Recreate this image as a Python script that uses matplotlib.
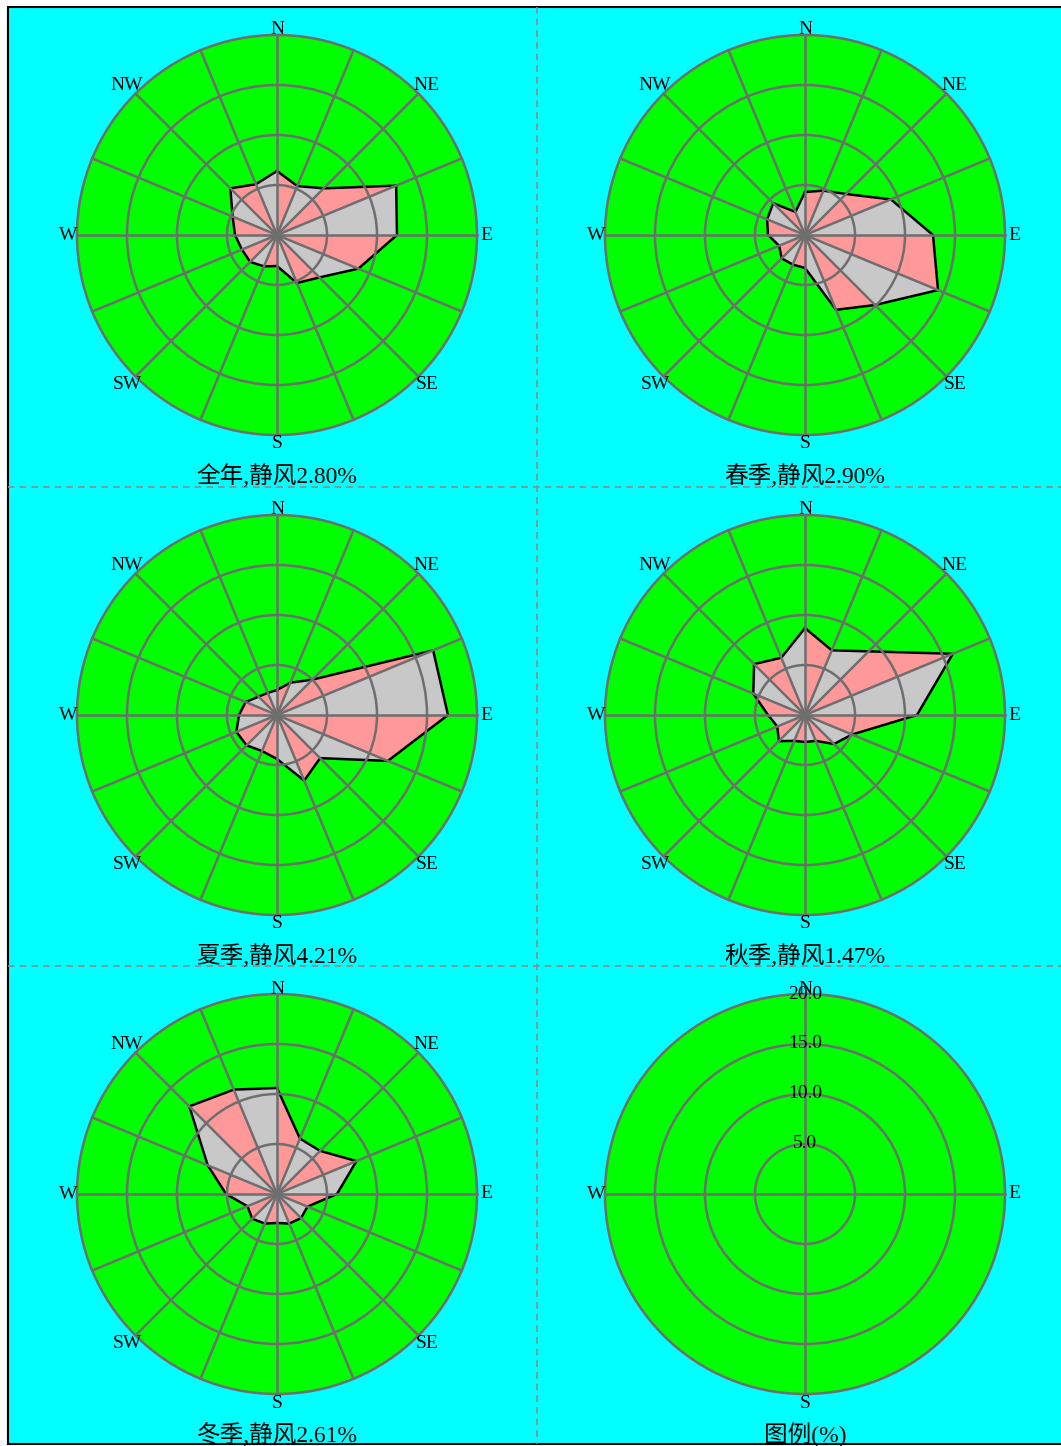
import numpy as np
import matplotlib.pyplot as plt
from matplotlib.patches import Circle, Rectangle

plt.rcParams['font.family'] = ['Liberation Serif', 'Noto Sans CJK SC', 'DejaVu Sans']

# 16 directions, clockwise from north
directions = ["N", "NNE", "NE", "ENE", "E", "ESE", "SE", "SSE",
              "S", "SSW", "SW", "WSW", "W", "WNW", "NW", "NNW"]

# wind direction frequency (%)
annual = [6.4, 5.3, 6.6, 12.9, 12.0, 8.8, 6.0, 5.2, 3.1, 3.4, 3.8, 3.8, 4.2, 4.8, 6.6, 5.5]
spring = [4.3, 4.8, 5.8, 9.3, 12.8, 14.4, 9.9, 8.1, 3.3, 3.2, 3.3, 2.8, 3.7, 4.1, 4.5, 2.5]
summer = [2.5, 3.5, 5.0, 16.9, 17.1, 12.0, 6.1, 7.1, 4.4, 3.9, 4.3, 4.4, 3.8, 3.4, 2.6, 2.4]
autumn = [8.7, 7.0, 9.0, 16.0, 11.2, 5.1, 4.1, 2.8, 2.7, 2.8, 3.7, 3.0, 3.7, 5.6, 7.2, 6.2]
winter = [10.6, 6.0, 6.1, 8.6, 6.0, 3.3, 3.4, 3.2, 2.9, 3.2, 3.5, 3.2, 5.1, 7.5, 12.4, 11.3]

season_names = ["全年", "春季", "夏季", "秋季", "冬季"]
calm = [2.80, 2.90, 4.21, 1.47, 2.61]
ring_values = [5, 10, 15, 20]
label_dirs = ["N", "NE", "E", "SE", "S", "SW", "W", "NW"]

W, H = 1061, 1446
RMAX = 20
green = '#00ff00'
pink = '#ff9999'
grey = '#c8c8c8'
grid_color = '#6e6e6e'

fig = plt.figure(figsize=(W / 100, H / 100), dpi=100)
fig.patch.set_facecolor('white')

# background frame with dashed separators (pixel coords)
bg = fig.add_axes([0, 0, 1, 1])
bg.set_xlim(0, W)
bg.set_ylim(H, 0)
bg.axis('off')
bg.add_patch(Rectangle((8, 7), W, 1437, facecolor='#00ffff', edgecolor='black', lw=1.5))
sep = dict(color='#8c8c8c', lw=1.2, ls=(0, (4, 3)))
bg.plot([537, 537], [7, 1444], **sep)
bg.plot([8, W], [487, 487], **sep)
bg.plot([8, W], [966, 966], **sep)

centers = [(277, 235), (805, 235), (277, 715), (805, 715), (277, 1194), (805, 1194)]
half = 230  # px, 10 px per percent


def make_axes(cx, cy):
    ax = fig.add_axes([(cx - half) / W, 1 - (cy + half) / H, 2 * half / W, 2 * half / H])
    ax.set_xlim(-half / 10, half / 10)
    ax.set_ylim(-half / 10, half / 10)
    ax.axis('off')
    ax.add_patch(Circle((0, 0), RMAX, facecolor=green, edgecolor='none', zorder=1))
    for rv in ring_values:
        ax.add_patch(Circle((0, 0), rv, fill=False, edgecolor=grid_color, lw=1.8, zorder=4))
    return ax


def dir_labels(ax, names):
    for name in names:
        ang = np.radians(directions.index(name) * 22.5)
        if len(name) == 2:
            rr = 21.2
        elif name == "N":
            rr = 20.5
        else:
            rr = 20.9
        ax.text(rr * np.sin(ang), rr * np.cos(ang), name, ha='center', va='center',
                fontsize=14, zorder=6)


theta = np.radians(np.arange(16) * 22.5)
all_data = [annual, spring, summer, autumn, winter]

for k, freq in enumerate(all_data):
    cx, cy = centers[k]
    ax = make_axes(cx, cy)
    r = np.array(freq)
    x = r * np.sin(theta)
    y = r * np.cos(theta)
    for i in range(16):
        j = (i + 1) % 16
        c = pink if i % 2 == 0 else grey
        ax.fill([0, x[i], x[j]], [0, y[i], y[j]], facecolor=c, edgecolor=c, lw=0.5, zorder=2)
    ax.plot(np.append(x, x[0]), np.append(y, y[0]), color='black', lw=1.8, zorder=3)
    for t in theta:
        ax.plot([0, RMAX * np.sin(t)], [0, RMAX * np.cos(t)], color=grid_color, lw=1.8, zorder=4)
    dir_labels(ax, label_dirs)
    ax.text(0, -24.1, f"{season_names[k]},静风{calm[k]:.2f}%", ha='center', va='center',
            fontsize=17, zorder=6)

# legend panel
cx, cy = centers[5]
ax = make_axes(cx, cy)
for t in np.radians([0, 90, 180, 270]):
    ax.plot([0, RMAX * np.sin(t)], [0, RMAX * np.cos(t)], color=grid_color, lw=1.8, zorder=4)
dir_labels(ax, ["N", "E", "S", "W"])
for rv in ring_values:
    ax.text(0, rv, f"{rv:.1f}", ha='center', va='center', fontsize=14, zorder=6)
ax.text(0, -24.1, "图例(%)", ha='center', va='center', fontsize=17, zorder=6)

fig.savefig('out.png', dpi=100, facecolor=fig.get_facecolor())
